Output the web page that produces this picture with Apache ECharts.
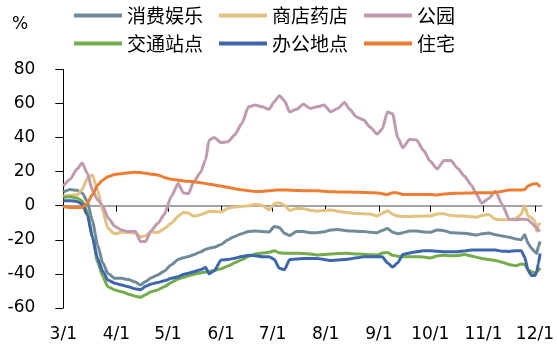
<!DOCTYPE html>
<html>
<head>
<meta charset="utf-8">
<script src="https://cdn.jsdelivr.net/npm/echarts@6/dist/echarts.min.js"></script>
<style>
html,body{margin:0;padding:0;background:#fff;}
#chart{width:557px;height:355px;}
</style>
</head>
<body>
<div id="chart"></div>
<script>
// days counted from 3/1
const days = [0,4,8,11,14,17,20,23,26,30,34,38,42,45,48,51,55,59,63,67,70,73,76,80,83,85,88,92,96,100,104,108,112,116,120,123,126,129,132,136,140,144,148,152,156,160,164,167,171,175,179,183,186,189,192,195,198,202,206,210,214,218,222,226,230,234,238,241,244,248,252,256,260,264,267,269,271,273,275,276,277,278];

const retail = [8,9.5,9,7.5,2.5,-9,-23,-33.5,-39.7,-42.6,-42.6,-43.3,-44.8,-46.5,-44.5,-42.4,-40.7,-38.3,-34.6,-31.5,-30.5,-29.8,-28.7,-27.1,-25.6,-24.9,-24.4,-22.8,-20,-18,-16.4,-15.2,-14.8,-15.2,-15.4,-12.2,-12.8,-16.2,-17.5,-15.2,-15.2,-15.8,-15.8,-15.3,-14.2,-14,-14.5,-14.8,-15,-15.2,-15.5,-15.8,-14.5,-13.3,-15.5,-16.5,-15.8,-14.9,-14.9,-15.4,-15.6,-14.2,-14.7,-15.8,-16,-16.2,-16.8,-17.2,-16.5,-16,-17,-17.8,-18.5,-19.5,-20,-17,-22,-25,-27,-28,-24,-21];

const grocery = [5.7,6.2,6.3,9.5,16,18,9,-3,-13.3,-16.5,-15.5,-15.7,-16,-18.2,-17.6,-15.3,-15.8,-13.3,-10.3,-6.2,-4,-4.3,-6.2,-5.3,-4.2,-3.3,-3.4,-3.6,-1.6,-0.7,-0.4,-0.1,0.9,0.2,-2.4,1.2,1.8,0.2,-2.8,-1.6,-1.8,-2.7,-3.2,-2.8,-2.5,-3.2,-3.8,-4.2,-4.6,-4.7,-4.9,-6,-4.5,-2.9,-5,-6,-6.4,-6.3,-6.2,-6.1,-6.1,-4.8,-4.7,-5.8,-6.1,-6.1,-6.5,-6.8,-5.8,-5.2,-8,-8.3,-8.2,-7.5,-5,0,-6,-7,-9,-15,-11.5,-10];

const parks = [11.5,15.5,21.5,25,19,9,3.5,0,-7,-12,-14.3,-15.2,-15,-21,-21,-15,-10.5,-5,5.5,13,7.5,7,14,19.5,27,38.5,40,37,37.5,41.6,48,58,59,58,56.5,61,64.5,61.5,55,56.5,59.5,57,58,59,55.1,57,60.5,56.5,52,50.4,46,42,45,55,54,40,34,39,38.5,32.5,26,21.5,26.5,26.5,21.8,17.2,12,6.5,1.5,4.2,8.5,0.5,-8,-8.3,-8,-8,-8.3,-10,-12,-13,-14.4,-15];

const transit = [4.9,5.2,4.5,2.8,-3.5,-18.5,-33,-41.5,-47.5,-49.4,-50.5,-51.9,-53.1,-53.7,-52.2,-50.5,-49.4,-47.5,-45,-43,-42,-41.1,-40.3,-39.4,-38.9,-38.6,-38,-37,-35.4,-33.5,-31.7,-29.8,-28.3,-27.8,-27.3,-26.4,-27.6,-27.9,-27.9,-27.9,-28,-28.4,-28.9,-28.6,-28.3,-28.1,-27.9,-28,-28.3,-28.5,-28.7,-28.9,-27.8,-27.5,-29,-29.6,-29.9,-29.9,-29.9,-30.1,-30.7,-29.5,-29,-29.4,-29.2,-28.6,-29.5,-30.3,-30.9,-31.6,-32.1,-33.2,-34.5,-35.2,-34.2,-34.5,-37.5,-38.8,-39.3,-38.8,-38,-36.5];

const workplace = [2.9,2.9,2.5,1,-5.5,-18.5,-31,-38.5,-43.6,-45.5,-46.5,-47.6,-48.7,-49.3,-47.3,-46,-45.1,-44,-42.6,-41.6,-40.3,-39.6,-38.8,-37.5,-36.3,-40,-38.2,-31.8,-31.6,-30.8,-29.8,-29.1,-29.3,-29.9,-29.9,-31.5,-36.7,-37.5,-31.5,-31.2,-30.9,-30.9,-30.9,-31.5,-32.2,-31.9,-31.6,-31.2,-30.6,-30,-29.9,-29.9,-30,-33.5,-36,-33.5,-28.6,-27.7,-27,-26.4,-26.4,-26.7,-27,-27,-27,-26.5,-26,-26,-26,-26,-26,-26.7,-26.8,-26.4,-26.4,-30,-38,-41,-41,-39,-34,-28];

const residential = [-0.5,-1,-1,-1,1.5,6.5,12,15,17,18.3,18.8,19.3,19.6,19.4,19,18.5,18,16.6,15.5,15,14.5,14.3,14,13.5,13,12.6,12.2,11.5,10.8,10,9.3,8.8,8.3,8.4,8.8,9.1,9.2,9.2,9.1,8.9,8.8,8.8,8.8,8.5,8.2,8.1,8,8,7.9,7.8,7.6,7.5,7,6.5,7.6,7.5,6.6,6.6,6.6,6.6,6.5,6.3,6.8,7.2,7.3,7.4,7.5,7.6,7.6,7.6,7.7,8.5,9.2,9.2,9.2,9.5,11.5,12.5,12.9,13,12.3,11];

const seriesNames = ['消费娱乐','商店药店','公园','交通站点','办公地点','住宅'];
const tickDays = [0,31,61,92,122,153,184,214,245,275];
const tickLabels = ['3/1','4/1','5/1','6/1','7/1','8/1','9/1','10/1','11/1','12/1'];

const colors = ['#6f8b99','#e3c27e','#c09ab0','#72ad4a','#3e66b0','#ee7d32'];
const seriesData = [retail, grocery, parks, transit, workplace, residential];

const chart = echarts.init(document.getElementById('chart'), null, {renderer:'canvas'});
const legendText = {fontSize:19, color:'#000', fontFamily:'"Noto Sans CJK SC", sans-serif'};
const option = {
  animation: false,
  color: colors,
  title: {text:'%', left:7, top:11, textStyle:{fontSize:17, fontWeight:'normal', color:'#000', fontFamily:'DejaVu Sans'}},
  legend: [
    {data: seriesNames.slice(0,3), left:74, top:6, itemWidth:48, itemHeight:4, itemGap:16, icon:'rect', textStyle:legendText, padding:0},
    {data: seriesNames.slice(3,6), left:74, top:34, itemWidth:48, itemHeight:4, itemGap:16, icon:'rect', textStyle:legendText, padding:0}
  ],
  grid: {left:63.3, right:15, top:69.3, bottom:47},
  xAxis: [
    {type:'value', min:0, max:279, position:'bottom',
      axisLine:{show:true, onZero:true, lineStyle:{color:'#878787', width:1.5}},
      axisTick:{show:true, customValues: tickDays.slice(1), length:6, lineStyle:{color:'#000', width:1}},
      axisLabel:{show:false}, splitLine:{show:false}},
    {type:'value', min:0, max:279, position:'bottom',
      axisLine:{show:false, onZero:false}, axisTick:{show:false}, splitLine:{show:false},
      axisLabel:{show:true, customValues: tickDays, margin:18, fontSize:17, color:'#000', fontFamily:'DejaVu Sans',
        formatter: v => tickLabels[tickDays.indexOf(v)] || ''}}
  ],
  yAxis: {type:'value', min:-60, max:80, interval:20,
    axisLine:{show:true, lineStyle:{color:'#000', width:1}},
    axisTick:{show:true, length:8, lineStyle:{color:'#000'}},
    axisLabel:{fontSize:17, color:'#000', margin:28, fontFamily:'DejaVu Sans'},
    splitLine:{show:false}},
  series: seriesNames.map((n,i) => ({
    name:n, type:'line', xAxisIndex:0, showSymbol:false, symbol:'none',
    smooth:0.2, smoothMonotone:'x',
    lineStyle:{width:3, color:colors[i]},
    itemStyle:{color:colors[i]},
    data: days.map((d,k) => [d, seriesData[i][k]])
  }))
};
chart.setOption(option);
</script>
</body>
</html>
